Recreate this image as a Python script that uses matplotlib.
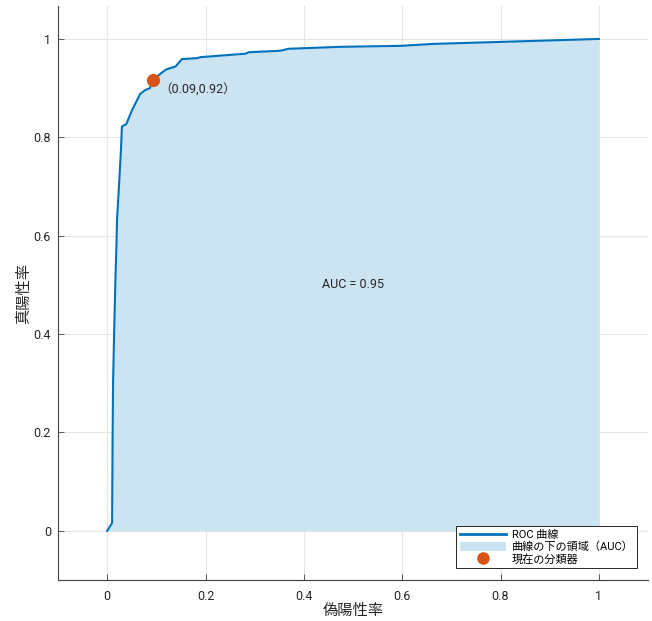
import matplotlib
matplotlib.use("Agg")
import matplotlib.pyplot as plt
from matplotlib.patches import Patch
from matplotlib.lines import Line2D

plt.rcParams['font.family'] = ['Roboto', 'Noto Sans CJK JP', 'DejaVu Sans']

# ROC curve
fpr = [0.0, 0.010, 0.011, 0.012, 0.014, 0.017, 0.019, 0.020, 0.024, 0.028, 0.030,
       0.039, 0.050, 0.067, 0.077, 0.087, 0.090, 0.094, 0.108, 0.120, 0.139,
       0.145, 0.152, 0.183, 0.190, 0.281, 0.288, 0.352, 0.369, 0.474, 0.597,
       0.664, 0.800, 1.0]
tpr = [0.0, 0.016, 0.18, 0.30, 0.395, 0.52, 0.585, 0.632, 0.70, 0.774, 0.822,
       0.827, 0.854, 0.888, 0.896, 0.900, 0.910, 0.917, 0.929, 0.938, 0.944,
       0.951, 0.959, 0.961, 0.963, 0.970, 0.973, 0.976, 0.980, 0.984, 0.986,
       0.990, 0.994, 1.0]
current_fpr = 0.094
current_tpr = 0.917
auc_value = 0.95

line_col = '#0072BD'
fill_col = '#CCE3F2'
dot_col = '#D95319'
txt_col = '#262626'

fig = plt.figure(figsize=(6.52, 6.21), dpi=100)
ax = fig.add_axes([58 / 652, 1 - 580 / 621, 590 / 652, 574 / 621])

ax.fill_between(fpr, tpr, 0, color=fill_col, linewidth=0)
ax.plot(fpr, tpr, color=line_col, linewidth=1.5)
ax.plot(current_fpr, current_tpr, 'o', color=dot_col, markersize=8.5)
ax.text(current_fpr + 0.012, current_tpr - 0.02,
        '（%.2f,%.2f）' % (current_fpr, current_tpr), fontsize=9,
        color=txt_col, va='center', ha='left')
ax.text(0.5, 0.5, 'AUC = %.2f' % auc_value, fontsize=9, color=txt_col,
        ha='center', va='center')

ax.set_xlim(-0.1, 1.1)
ax.set_ylim(-0.1, 1.067)
ax.set_xticks([0, 0.2, 0.4, 0.6, 0.8, 1])
ax.set_xticklabels(['0', '0.2', '0.4', '0.6', '0.8', '1'])
ax.set_yticks([0, 0.2, 0.4, 0.6, 0.8, 1])
ax.set_yticklabels(['0', '0.2', '0.4', '0.6', '0.8', '1'])
ax.tick_params(direction='in', length=4, width=0.6, colors='#404040',
               labelcolor=txt_col, labelsize=9)
ax.tick_params(axis='x', pad=7)
ax.tick_params(axis='y', pad=5)
ax.grid(True, color='#e6e6e6', linewidth=0.8)
ax.set_axisbelow(True)
for s in ['top', 'right']:
    ax.spines[s].set_visible(False)
for s in ['left', 'bottom']:
    ax.spines[s].set_color('#404040')
    ax.spines[s].set_linewidth(0.8)

ax.set_xlabel('偽陽性率', fontsize=11, color=txt_col, labelpad=1)
ax.set_ylabel('真陽性率', fontsize=11, color=txt_col, labelpad=2)

handles = [Line2D([], [], color=line_col, linewidth=2),
           Patch(facecolor=fill_col, edgecolor='none'),
           Line2D([], [], marker='o', linestyle='none', color=dot_col, markersize=8)]
labels = ['ROC 曲線', '曲線の下の領域（AUC）', '現在の分類器']
leg = ax.legend(handles, labels, loc='lower right',
                bbox_to_anchor=(579 / 590, 12 / 574), fontsize=8,
                fancybox=False, framealpha=1, edgecolor='#262626',
                borderpad=0.3, labelspacing=0.15, handlelength=4.2,
                handleheight=0.9, handletextpad=0.5, borderaxespad=0)
leg.get_frame().set_linewidth(0.7)

fig.savefig('out.png', dpi=100)
